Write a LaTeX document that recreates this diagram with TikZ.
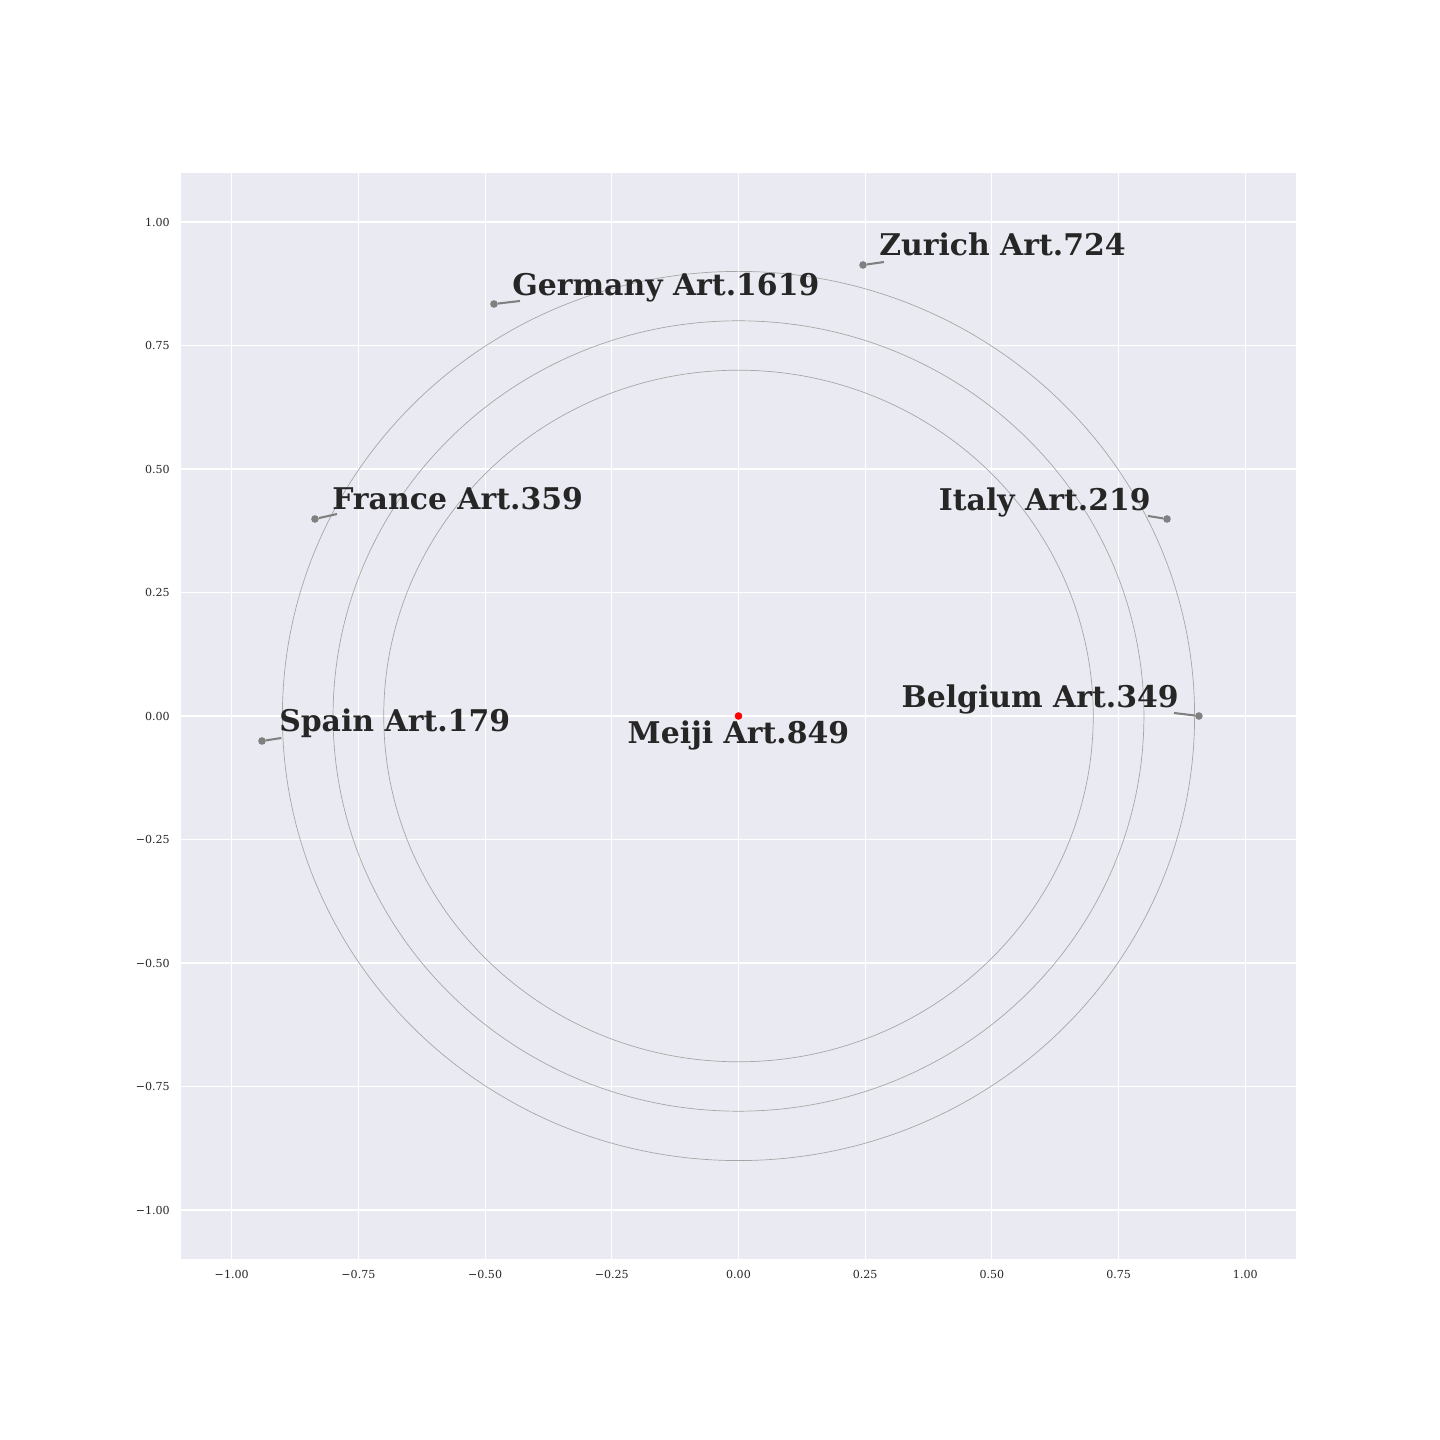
\documentclass[tikz,border=0pt]{standalone}
\usepackage{fontspec}
\setmainfont{DejaVu Serif}
\usepackage{xcolor}
\usepackage{tikz}
\usetikzlibrary{calc, positioning}

\definecolor{axbg}{HTML}{EAEAF2}
\definecolor{txtc}{HTML}{262626}
\definecolor{ringc}{HTML}{A6A6A6}

\tikzset{
    country/.style={font=\fontsize{21.6}{26}\selectfont\bfseries, text=txtc, inner sep=0pt},
    ticklbl/.style={font=\fontsize{8}{10}\selectfont, text=txtc, inner sep=0pt},
    spot/.style={circle, fill=gray, inner sep=0pt, minimum size=5.5pt},
    leader/.style={gray, line width=1.5pt},
    ring/.style={draw=ringc, line width=0.5pt}
}

\begin{document}
\begin{tikzpicture}[>=latex, x=12.873cm, y=12.548cm]
    \useasboundingbox (-1.4572,-1.4656) rectangle (1.3842,1.4494);

    % Nền và lưới
    \fill[axbg] (-1.1,-1.1) rectangle (1.1,1.1);
    \foreach \v in {-1,-0.75,-0.5,-0.25,0,0.25,0.5,0.75,1} {
        \draw[white, line width=0.8pt] (\v,-1.1) -- (\v,1.1);
        \draw[white, line width=0.8pt] (-1.1,\v) -- (1.1,\v);
    }

    % Nhãn trục
    \foreach \v/\t [count=\i] in {-1/−1.00, -0.75/−0.75, -0.5/−0.50, -0.25/−0.25, 0/0.00, 0.25/0.25, 0.5/0.50, 0.75/0.75, 1/1.00} {
        \node[ticklbl, anchor=east] (yt\i) at (-1.1218,\v) {\t};
        \node[ticklbl] (xt\i) at (\v,-1.1296) {\t};
    }

    % Các vòng tròn
    \draw[ring] (0,0) circle [radius=0.7];
    \draw[ring] (0,0) circle [radius=0.8];
    \draw[ring] (0,0) circle [radius=0.9];

    % Các điểm
    \node[spot] (pZurich) at (0.2457,0.9130) {};
    \node[spot] (pGermany) at (-0.4825,0.8340) {};
    \node[spot] (pFrance) at (-0.8357,0.3988) {};
    \node[spot] (pSpain) at (-0.9402,-0.0506) {};
    \node[spot] (pItaly) at (0.8455,0.3988) {};
    \node[spot] (pBelgium) at (0.9085,0) {};
    \node[spot, fill=red] (pMeiji) at (0,0) {};

    % Đường nối
    \coordinate (eZurich) at (0.2871,0.9190);
    \coordinate (eGermany) at (-0.4311,0.8401);
    \coordinate (eFrance) at (-0.7922,0.4089);
    \coordinate (eSpain) at (-0.9020,-0.0445);
    \coordinate (eItaly) at (0.8080,0.4049);
    \coordinate (eBelgium) at (0.8593,0.0061);
    \draw[leader] (pZurich) -- (eZurich);
    \draw[leader] (pGermany) -- (eGermany);
    \draw[leader] (pFrance) -- (eFrance);
    \draw[leader] (pSpain) -- (eSpain);
    \draw[leader] (pItaly) -- (eItaly);
    \draw[leader] (pBelgium) -- (eBelgium);

    % Nhãn
    \node[country, anchor=base west] (tZurich) at (0.2772,0.9312) {Zurich Art.724};
    \node[country, anchor=base west] (tGermany) at (-0.4469,0.8522) {Germany Art.1619};
    \node[country, anchor=base west] (tFrance) at (-0.8021,0.4190) {France Art.359};
    \node[country, anchor=base west] (tSpain) at (-0.9067,-0.0324) {Spain Art.179};
    \node[country, anchor=base east] (tItaly) at (0.8139,0.4150) {Italy Art.219};
    \node[country, anchor=base east] (tBelgium) at (0.8692,0.0162) {Belgium Art.349};
    \node[country, anchor=base] (tMeiji) at (0,-0.0547) {Meiji Art.849};
\end{tikzpicture}
\end{document}
